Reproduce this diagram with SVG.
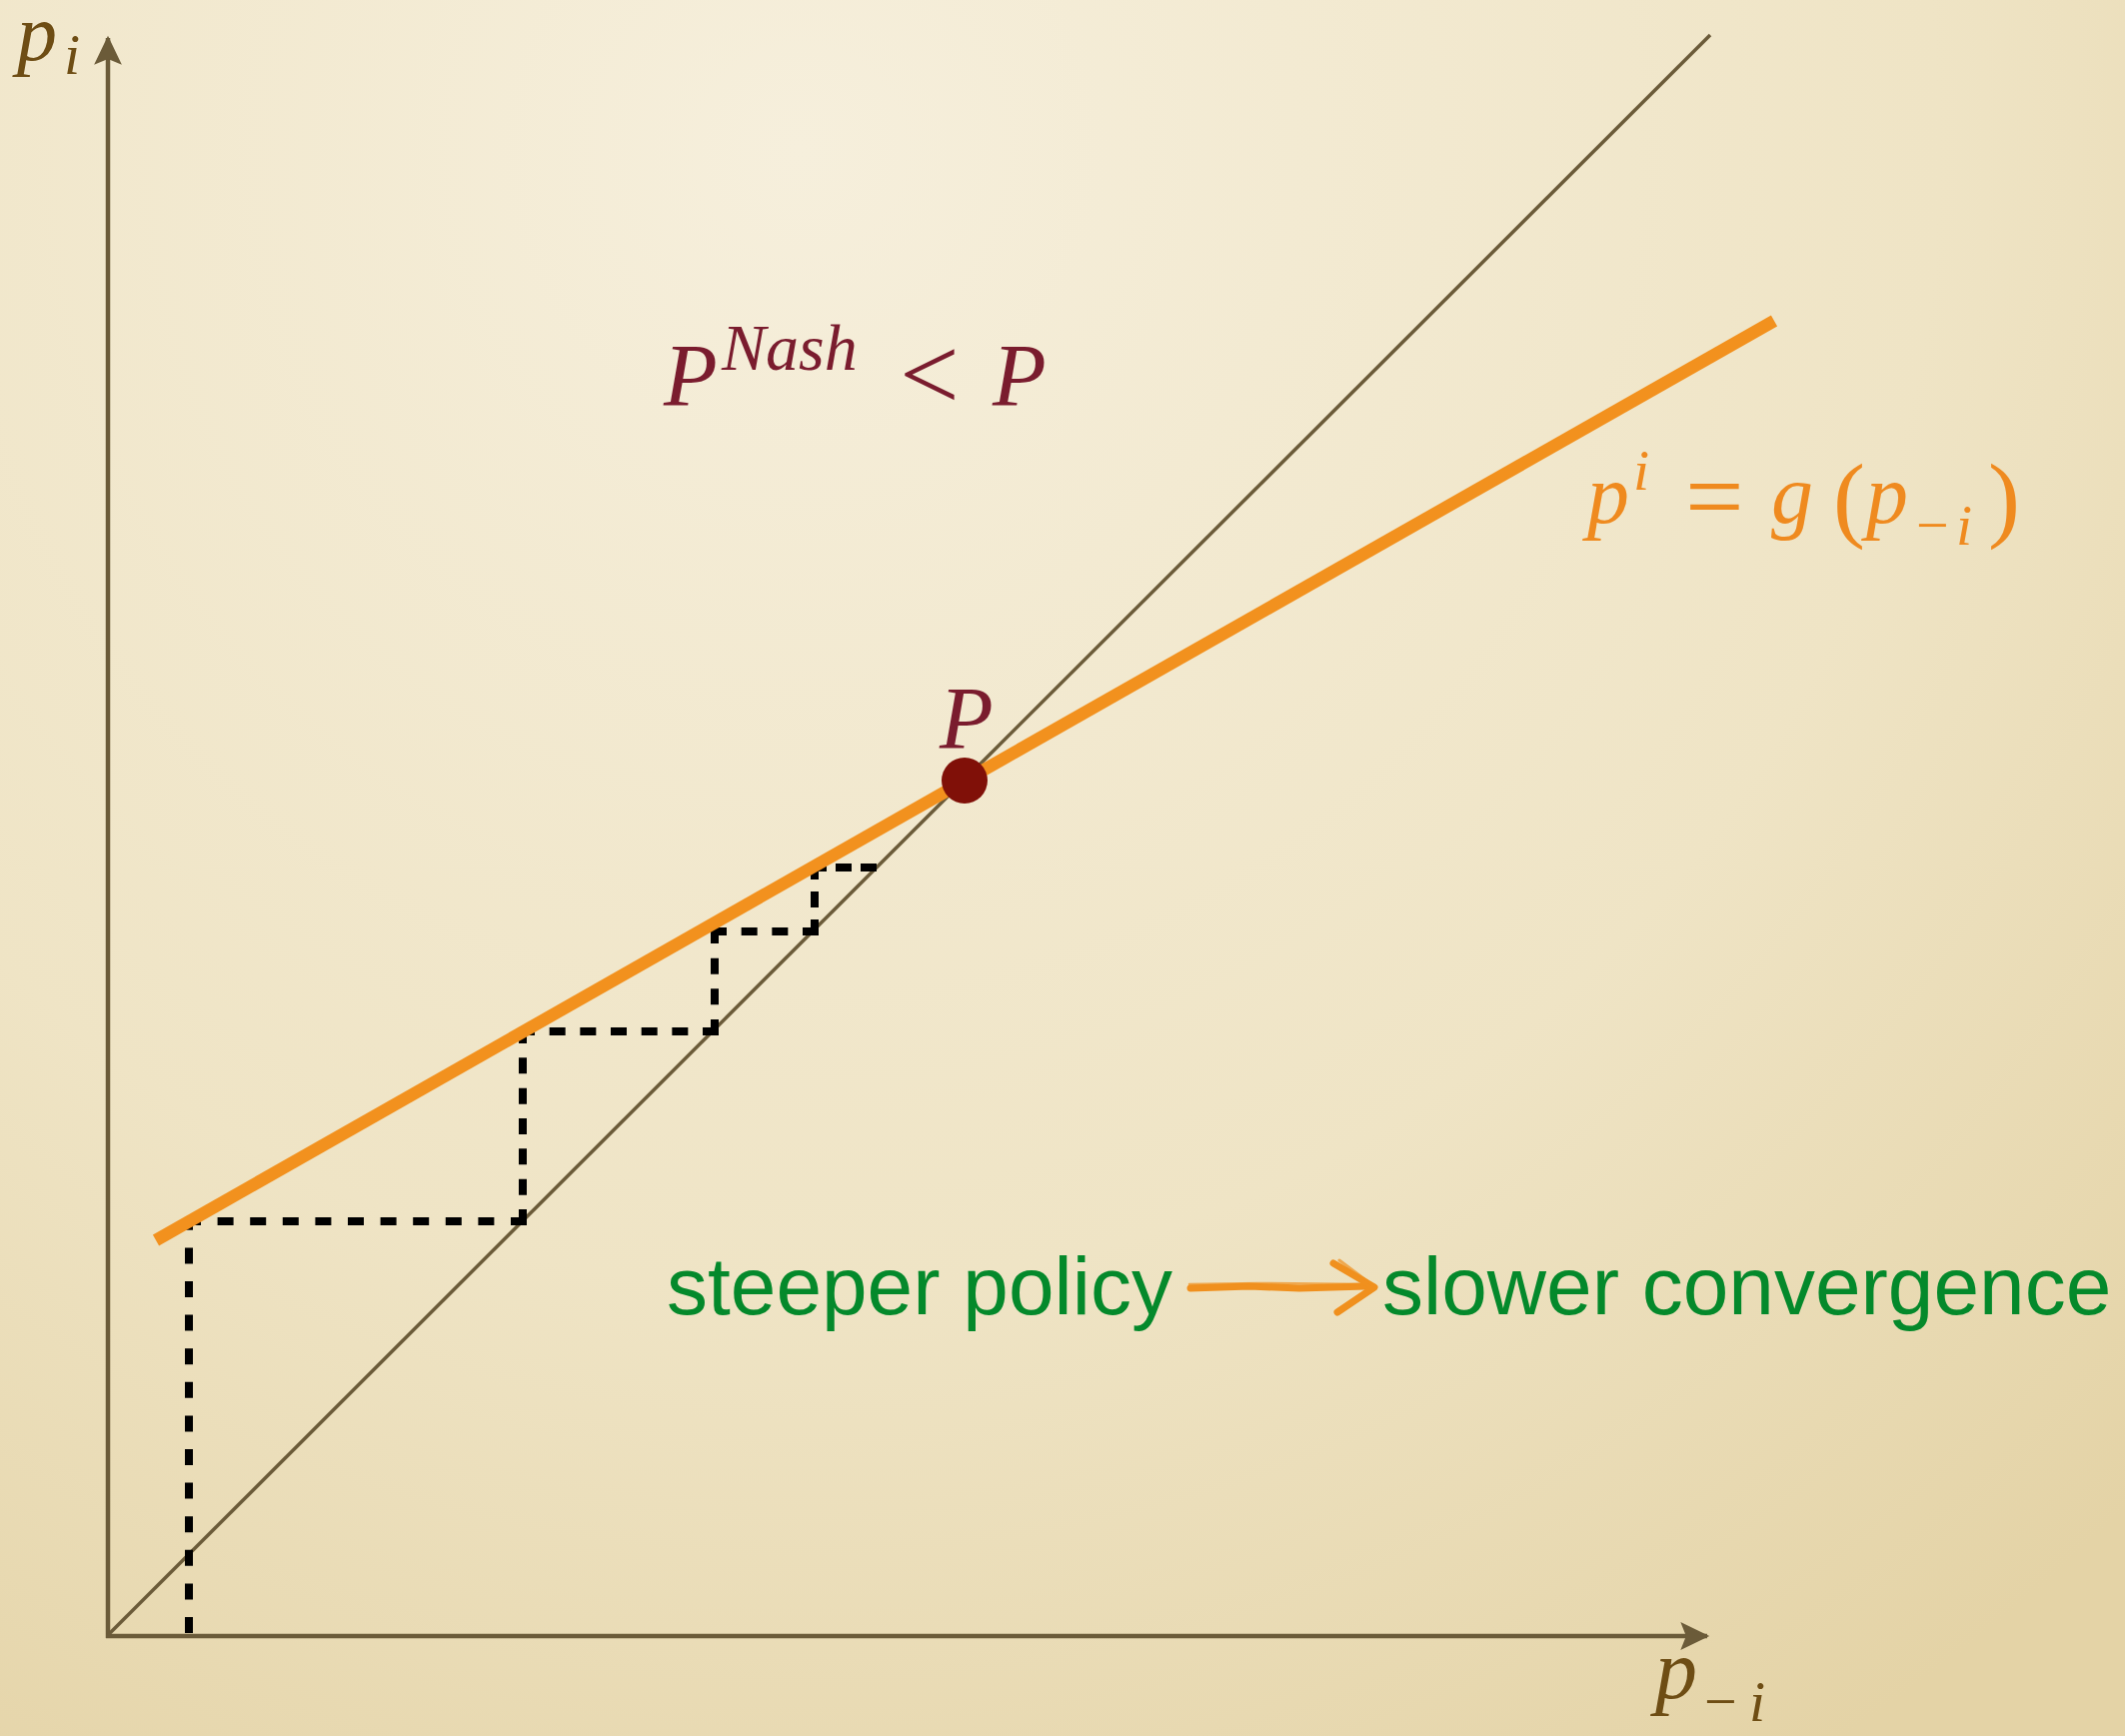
<svg xmlns="http://www.w3.org/2000/svg" width="2126" height="1737" viewBox="0 0 2126 1737">
<defs>
<radialGradient id="bg" cx="800" cy="150" r="1900" gradientUnits="userSpaceOnUse">
<stop offset="0" stop-color="#f6efdc"/>
<stop offset="0.6" stop-color="#efe4c5"/>
<stop offset="1" stop-color="#e4d3a6"/>
</radialGradient>
<marker id="ah" markerUnits="userSpaceOnUse" markerWidth="40" markerHeight="40" viewBox="-30 -15 36 30" refX="0" refY="0" orient="auto" overflow="visible">
<path d="M2,0 L-24,-12.5 L-19,0 L-24,12.5 Z" fill="#6b5b39"/>
</marker>
<style>
.axis{stroke:#6b5b39;stroke-width:4.5;fill:none}
.diag{stroke:#6b5b39;stroke-width:3.5;fill:none}
.dash{stroke:#000;stroke-width:8;fill:none}
.math{font-family:"Liberation Serif","DejaVu Serif",serif;font-style:italic}
.up{font-style:normal}
.brown{fill:#6e4d14}
.maroon{fill:#7a1c2e}
.orange{fill:#ef8a1f}
.green{font-family:"Liberation Sans",Arial,sans-serif;font-size:82px;fill:#04892b}
</style>
</defs>
<rect x="0" y="0" width="2126" height="1737" fill="url(#bg)"/>
<g id="connectors">
<line id="y-axis" class="axis" x1="108" y1="1639" x2="108" y2="38" marker-end="url(#ah)"/>
<line id="x-axis" class="axis" x1="106" y1="1637" x2="1708" y2="1637" marker-end="url(#ah)"/>
<line id="diagonal" class="diag" x1="108" y1="1636" x2="1711" y2="35"/>
<g id="cobweb">
<line class="dash" x1="189" y1="1634" x2="189" y2="1218" stroke-dasharray="16 17.6"/>
<line class="dash" x1="185" y1="1222" x2="527" y2="1222" stroke-dasharray="16 16.6"/>
<line class="dash" x1="523" y1="1226" x2="523" y2="1028" stroke-dasharray="16 14.33"/>
<line class="dash" x1="519" y1="1032" x2="719" y2="1032" stroke-dasharray="16 14.67"/>
<line class="dash" x1="715" y1="1036" x2="715" y2="928" stroke-dasharray="16 14.67"/>
<line class="dash" x1="711" y1="932" x2="819" y2="932" stroke-dasharray="16 14.67"/>
<line class="dash" x1="815" y1="936" x2="815" y2="864" stroke-dasharray="16 12"/>
<line class="dash" x1="811" y1="868" x2="877" y2="868" stroke-dasharray="16 9"/>
</g>
<line id="policy" x1="156" y1="1241" x2="1775" y2="321" stroke="#f2911e" stroke-width="12.5"/>
<g id="implies-arrow" stroke="#f0901e" fill="none" stroke-linecap="round" stroke-linejoin="round">
<path d="M1191,1289 L1250,1287 L1300,1289 L1366,1287" stroke-width="7"/>
<path d="M1190,1285 L1260,1284 L1364,1285" stroke-width="2.5" opacity="0.7"/>
<path d="M1334,1264 L1375,1288 L1338,1313" stroke-width="7"/>
<path d="M1340,1261 L1372,1285" stroke-width="3" opacity="0.7"/>
</g>
</g>
<g id="point-P">
<circle cx="965" cy="781" r="23" fill="#801008"/>
<text class="math maroon" x="940" y="748" font-size="88">P</text>
</g>
<g id="label-pi">
<text class="math brown" x="17" y="60" font-size="80">p</text>
<text class="math brown" x="64" y="74" font-size="58">i</text>
</g>
<g id="label-p-i">
<text class="math brown" x="1656" y="1699" font-size="84">p</text>
<text class="math up brown" x="1705" y="1722" font-size="58">−</text>
<text class="math brown" x="1750" y="1722" font-size="58">i</text>
</g>
<g id="label-nash">
<text class="math maroon" x="664" y="405" font-size="88">P</text>
<text class="math maroon" x="722" y="370" font-size="66">Nash</text>
<text class="math up maroon" x="900" y="410" font-size="106">&lt;</text>
<text class="math maroon" x="993" y="405" font-size="88">P</text>
</g>
<g id="label-g">
<text class="math orange" x="1588" y="523" font-size="84">p</text>
<text class="math orange" x="1634" y="490" font-size="58">i</text>
<text class="math up orange" x="1686" y="532" font-size="104">=</text>
<text class="math orange" x="1772" y="523" font-size="84">g</text>
<text class="math up orange" x="1834" y="530" font-size="96">(</text>
<text class="math orange" x="1867" y="523" font-size="84">p</text>
<text class="math up orange" x="1917" y="545" font-size="58">−</text>
<text class="math orange" x="1957" y="545" font-size="58">i</text>
<text class="math up orange" x="1989" y="530" font-size="96">)</text>
</g>
<g id="label-conclusion">
<text class="green" x="667" y="1315">steeper policy</text>
<text class="green" x="1383" y="1315">slower convergence</text>
</g>
</svg>
